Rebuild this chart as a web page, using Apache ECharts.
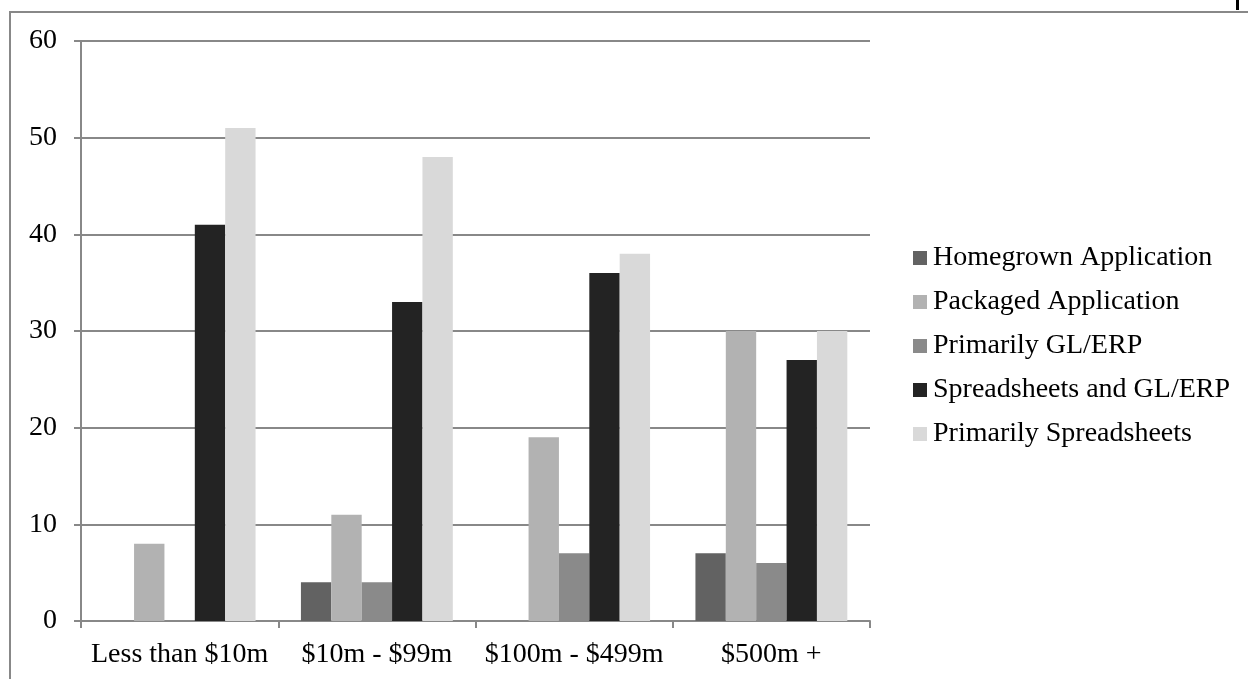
<!DOCTYPE html>
<html>
<head>
<meta charset="utf-8">
<script src="https://cdn.jsdelivr.net/npm/echarts@6/dist/echarts.min.js"></script>
<style>html,body{margin:0;padding:0;background:#fff}#c{width:1248px;height:679px}</style>
</head>
<body>
<div id="c"></div>
<script>
const categories = ['Less than $10m', '$10m - $99m', '$100m - $499m', '$500m +'];
const seriesNames = ['Homegrown Application', 'Packaged Application', 'Primarily GL/ERP', 'Spreadsheets and GL/ERP', 'Primarily Spreadsheets'];
const homegrown = [0, 4, 0, 7];
const packaged = [8, 11, 19, 30];
const glErp = [0, 4, 7, 6];
const sheetsAndGl = [41, 33, 36, 27];
const sheets = [51, 48, 38, 30];
const colors = ['#626262', '#b2b2b2', '#8a8a8a', '#232323', '#d9d9d9'];
const values = [homegrown, packaged, glErp, sheetsAndGl, sheets];

const font = 'Liberation Serif';
const chart = echarts.init(document.getElementById('c'));
chart.setOption({
  animation: false,
  backgroundColor: '#fff',
  textStyle: { fontFamily: font },
  grid: { left: 81, top: 41, right: 378, bottom: 58, containLabel: false },
  legend: {
    orient: 'vertical',
    left: 908,
    top: 239,
    itemWidth: 14,
    itemHeight: 14,
    itemGap: 16,
    icon: 'rect',
    textStyle: { fontFamily: font, fontSize: 28, lineHeight: 14, color: '#000', padding: [0, 0, 0, 1] },
    data: seriesNames
  },
  xAxis: {
    type: 'category',
    data: categories,
    axisLine: { lineStyle: { color: '#888', width: 2 } },
    axisTick: { show: true, length: 7, lineStyle: { color: '#888', width: 2 } },
    axisLabel: { interval: 0, fontFamily: font, fontSize: 28, color: '#000', margin: 20 },
    splitLine: { show: false }
  },
  yAxis: {
    type: 'value',
    min: 0, max: 60, interval: 10,
    axisLine: { show: true, lineStyle: { color: '#888', width: 2 } },
    axisTick: { show: true, length: 7, lineStyle: { color: '#888', width: 2 } },
    axisLabel: { fontFamily: font, fontSize: 28, color: '#000', margin: 24 },
    splitLine: { show: true, lineStyle: { color: '#888', width: 2 } }
  },
  series: seriesNames.map((n, i) => ({
    name: n,
    type: 'bar',
    data: values[i],
    barGap: '0%',
    barCategoryGap: '23%',
    itemStyle: { color: colors[i] },
    z: 3
  })),
  graphic: [
    { type: 'rect', shape: { x: 10, y: 12, width: 1300, height: 800 }, style: { fill: 'none', stroke: '#888', lineWidth: 2 }, silent: true },
    { type: 'rect', shape: { x: 1236, y: 0, width: 3, height: 10 }, style: { fill: '#000' }, silent: true }
  ]
});
</script>
</body>
</html>
